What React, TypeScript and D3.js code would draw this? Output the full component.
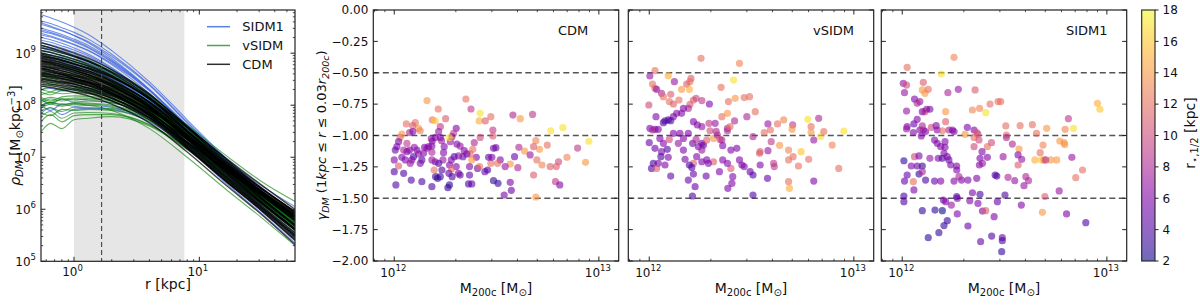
import React from 'react';
import * as d3 from 'd3';

// ---------------- DATA ----------------
// radii (kpc) at which each density profile is sampled
const RADII = [0.55, 0.65, 0.8, 1, 1.3, 2, 4, 8, 16, 32, 58];

// log10 rho_DM [Msun kpc^-3] at RADII
const sidm1Profiles: number[][] = [
  [9.74, 9.68, 9.6, 9.5, 9.36, 9.05, 8.45, 7.72, 7.0, 6.35, 5.85],
  [9.62, 9.57, 9.49, 9.4, 9.27, 8.98, 8.4, 7.68, 6.98, 6.34, 5.86],
  [9.55, 9.5, 9.43, 9.34, 9.22, 8.94, 8.38, 7.66, 6.95, 6.3, 5.8],
  [9.48, 9.43, 9.36, 9.27, 9.15, 8.87, 8.3, 7.58, 6.86, 6.22, 5.72],
  [9.42, 9.38, 9.31, 9.22, 9.1, 8.83, 8.28, 7.58, 6.88, 6.25, 5.76],
  [9.35, 9.31, 9.24, 9.16, 9.05, 8.8, 8.28, 7.6, 6.92, 6.3, 5.82],
  [9.3, 9.26, 9.19, 9.1, 8.98, 8.72, 8.18, 7.48, 6.78, 6.15, 5.64],
  [9.25, 9.21, 9.14, 9.06, 8.95, 8.7, 8.18, 7.52, 6.84, 6.22, 5.74],
  [9.2, 9.16, 9.1, 9.02, 8.92, 8.68, 8.18, 7.54, 6.88, 6.28, 5.82],
  [9.15, 9.11, 9.05, 8.97, 8.87, 8.63, 8.12, 7.46, 6.78, 6.16, 5.66],
  [9.1, 9.07, 9.01, 8.94, 8.84, 8.62, 8.14, 7.5, 6.84, 6.24, 5.76],
  [9.05, 9.02, 8.96, 8.89, 8.8, 8.58, 8.1, 7.47, 6.82, 6.22, 5.74],
  [9.0, 8.97, 8.92, 8.85, 8.76, 8.56, 8.1, 7.48, 6.84, 6.26, 5.8],
  [8.95, 8.92, 8.87, 8.8, 8.72, 8.52, 8.08, 7.46, 6.82, 6.24, 5.78],
  [8.9, 8.87, 8.83, 8.77, 8.69, 8.5, 8.08, 7.48, 6.86, 6.3, 5.86],
  [8.85, 8.83, 8.79, 8.73, 8.66, 8.48, 8.06, 7.45, 6.82, 6.24, 5.76],
  [9.58, 9.52, 9.44, 9.34, 9.2, 8.9, 8.3, 7.56, 6.82, 6.16, 5.64],
  [9.38, 9.33, 9.26, 9.17, 9.05, 8.78, 8.22, 7.5, 6.78, 6.14, 5.62],
  [8.1, 8.02, 8.12, 8.06, 8.08, 8.05, 7.8, 7.3, 6.74, 6.2, 5.74],
  [7.85, 7.95, 7.82, 7.92, 7.94, 7.92, 7.68, 7.2, 6.65, 6.12, 5.66],
  [8.0, 7.9, 8.02, 7.98, 8.0, 7.96, 7.72, 7.22, 6.66, 6.12, 5.64],
  [8.75, 8.73, 8.7, 8.65, 8.58, 8.42, 8.02, 7.42, 6.8, 6.22, 5.74],
  [9.12, 9.08, 9.02, 8.94, 8.83, 8.58, 8.05, 7.35, 6.62, 5.98, 5.44],
  [8.6, 8.58, 8.55, 8.51, 8.45, 8.3, 7.9, 7.28, 6.62, 6.0, 5.48],
  [8.3, 8.32, 8.28, 8.3, 8.27, 8.18, 7.82, 7.2, 6.52, 5.9, 5.35],
  [8.98, 8.95, 8.9, 8.84, 8.76, 8.58, 8.16, 7.58, 6.98, 6.44, 6.05],
  [9.45, 9.4, 9.33, 9.24, 9.12, 8.85, 8.3, 7.62, 6.95, 6.35, 5.9],
  [8.5, 8.48, 8.44, 8.4, 8.34, 8.2, 7.84, 7.26, 6.62, 6.02, 5.5],
];

const vsidmProfiles: number[][] = [
  [9.15, 9.1, 9.03, 8.95, 8.86, 8.65, 8.2, 7.56, 6.9, 6.3, 5.85],
  [8.95, 8.92, 8.88, 8.82, 8.74, 8.55, 8.12, 7.52, 6.9, 6.32, 5.88],
  [8.8, 8.78, 8.75, 8.7, 8.63, 8.46, 8.05, 7.46, 6.84, 6.27, 5.82],
  [8.6, 8.62, 8.58, 8.56, 8.52, 8.4, 8.04, 7.48, 6.88, 6.33, 5.9],
  [8.45, 8.48, 8.44, 8.45, 8.42, 8.33, 8.0, 7.45, 6.85, 6.3, 5.86],
  [8.3, 8.35, 8.3, 8.32, 8.3, 8.22, 7.92, 7.4, 6.82, 6.28, 5.84],
  [8.2, 8.25, 8.22, 8.24, 8.22, 8.15, 7.86, 7.35, 6.76, 6.2, 5.74],
  [8.1, 8.05, 8.12, 8.1, 8.12, 8.08, 7.82, 7.33, 6.76, 6.22, 5.76],
  [8.0, 8.06, 8.0, 8.05, 8.04, 8.0, 7.76, 7.28, 6.72, 6.18, 5.72],
  [7.9, 7.95, 7.88, 7.96, 7.95, 7.94, 7.72, 7.25, 6.7, 6.17, 5.7],
  [7.8, 7.88, 7.75, 7.85, 7.86, 7.84, 7.63, 7.18, 6.63, 6.1, 5.62],
  [7.5, 7.65, 7.55, 7.72, 7.75, 7.78, 7.6, 7.15, 6.62, 6.08, 5.6],
  [8.35, 8.4, 8.38, 8.36, 8.33, 8.24, 7.9, 7.36, 6.76, 6.2, 5.72],
  [8.55, 8.56, 8.53, 8.5, 8.45, 8.32, 7.95, 7.38, 6.78, 6.22, 5.75],
  [8.7, 8.7, 8.66, 8.62, 8.56, 8.4, 8.0, 7.42, 6.8, 6.22, 5.74],
  [8.25, 8.2, 8.28, 8.25, 8.24, 8.18, 7.9, 7.4, 6.84, 6.32, 5.88],
  [7.95, 8.02, 7.98, 8.02, 8.02, 7.98, 7.75, 7.26, 6.7, 6.15, 5.66],
  [8.05, 8.12, 8.08, 8.12, 8.1, 8.05, 7.78, 7.28, 6.7, 6.14, 5.64],
  [8.15, 8.08, 8.16, 8.18, 8.17, 8.12, 7.85, 7.36, 6.8, 6.26, 5.8],
  [8.4, 8.45, 8.42, 8.42, 8.38, 8.28, 7.94, 7.42, 6.84, 6.3, 5.84],
  [8.85, 8.83, 8.79, 8.73, 8.65, 8.48, 8.06, 7.46, 6.82, 6.22, 5.72],
  [7.85, 7.8, 7.92, 7.9, 7.92, 7.9, 7.7, 7.24, 6.7, 6.18, 5.72],
  [9.0, 8.96, 8.91, 8.84, 8.76, 8.57, 8.15, 7.56, 6.95, 6.38, 5.94],
  [8.5, 8.52, 8.5, 8.48, 8.44, 8.33, 7.98, 7.44, 6.86, 6.32, 5.88],
  [7.7, 7.82, 7.68, 7.8, 7.82, 7.82, 7.62, 7.16, 6.6, 6.05, 5.55],
  [8.62, 8.64, 8.6, 8.58, 8.53, 8.4, 8.0, 7.4, 6.78, 6.2, 5.7],
  [8.3, 8.26, 8.33, 8.3, 8.28, 8.2, 7.88, 7.36, 6.78, 6.24, 5.78],
  [8.1, 8.15, 8.12, 8.14, 8.14, 8.1, 7.84, 7.34, 6.78, 6.25, 5.8],
  [8.0, 8.05, 8.02, 8.03, 8.0, 7.9, 7.55, 7.0, 6.4, 5.82, 5.3],
  [9.05, 9.02, 8.96, 8.89, 8.8, 8.6, 8.18, 7.62, 7.05, 6.52, 6.15],
];

const cdmProfiles: number[][] = [
  [9.2, 9.15, 9.08, 9.0, 8.9, 8.68, 8.22, 7.58, 6.92, 6.32, 5.82],
  [9.1, 9.06, 9.0, 8.93, 8.84, 8.64, 8.2, 7.6, 6.98, 6.4, 5.95],
  [9.05, 9.01, 8.95, 8.88, 8.78, 8.57, 8.12, 7.5, 6.86, 6.26, 5.78],
  [9.0, 8.96, 8.91, 8.84, 8.75, 8.55, 8.12, 7.52, 6.9, 6.33, 5.88],
  [8.98, 8.93, 8.87, 8.79, 8.7, 8.49, 8.05, 7.43, 6.8, 6.2, 5.7],
  [8.95, 8.91, 8.86, 8.8, 8.72, 8.54, 8.14, 7.56, 6.95, 6.38, 5.92],
  [8.92, 8.88, 8.82, 8.75, 8.66, 8.45, 8.0, 7.38, 6.74, 6.12, 5.62],
  [8.9, 8.86, 8.81, 8.74, 8.66, 8.47, 8.06, 7.48, 6.88, 6.32, 5.86],
  [8.88, 8.84, 8.78, 8.71, 8.62, 8.42, 7.99, 7.39, 6.77, 6.18, 5.7],
  [8.86, 8.82, 8.77, 8.71, 8.63, 8.45, 8.06, 7.5, 6.92, 6.38, 5.95],
  [8.84, 8.8, 8.74, 8.67, 8.58, 8.38, 7.95, 7.34, 6.7, 6.1, 5.6],
  [8.82, 8.78, 8.73, 8.67, 8.59, 8.41, 8.02, 7.45, 6.85, 6.28, 5.82],
  [8.8, 8.76, 8.71, 8.64, 8.55, 8.36, 7.95, 7.36, 6.74, 6.16, 5.68],
  [8.78, 8.74, 8.69, 8.63, 8.55, 8.37, 7.98, 7.42, 6.83, 6.28, 5.84],
  [8.76, 8.72, 8.66, 8.59, 8.5, 8.3, 7.88, 7.28, 6.65, 6.05, 5.55],
  [8.74, 8.71, 8.66, 8.6, 8.52, 8.35, 7.97, 7.42, 6.84, 6.3, 5.86],
  [8.72, 8.68, 8.63, 8.56, 8.47, 8.28, 7.87, 7.29, 6.68, 6.1, 5.62],
  [8.7, 8.67, 8.62, 8.56, 8.49, 8.32, 7.95, 7.41, 6.85, 6.32, 5.9],
  [8.68, 8.64, 8.59, 8.52, 8.43, 8.24, 7.83, 7.24, 6.62, 6.03, 5.52],
  [8.66, 8.63, 8.58, 8.52, 8.45, 8.29, 7.92, 7.38, 6.8, 6.26, 5.8],
  [8.64, 8.6, 8.55, 8.49, 8.41, 8.22, 7.82, 7.25, 6.65, 6.08, 5.6],
  [8.62, 8.59, 8.55, 8.5, 8.43, 8.27, 7.92, 7.4, 6.85, 6.34, 5.92],
  [8.6, 8.57, 8.52, 8.46, 8.38, 8.2, 7.8, 7.22, 6.6, 6.02, 5.5],
  [8.57, 8.54, 8.5, 8.44, 8.37, 8.21, 7.86, 7.34, 6.78, 6.25, 5.8],
  [8.55, 8.52, 8.47, 8.41, 8.33, 8.15, 7.76, 7.19, 6.58, 6.0, 5.48],
  [8.52, 8.49, 8.45, 8.4, 8.33, 8.18, 7.84, 7.34, 6.8, 6.3, 5.88],
  [8.5, 8.47, 8.43, 8.37, 8.3, 8.13, 7.75, 7.18, 6.56, 5.96, 5.42],
  [8.47, 8.44, 8.4, 8.35, 8.28, 8.13, 7.8, 7.3, 6.76, 6.24, 5.78],
  [8.44, 8.41, 8.37, 8.32, 8.25, 8.09, 7.72, 7.16, 6.55, 5.95, 5.4],
  [8.4, 8.38, 8.34, 8.29, 8.23, 8.08, 7.76, 7.28, 6.76, 6.27, 5.85],
  [8.37, 8.34, 8.3, 8.25, 8.18, 8.02, 7.66, 7.1, 6.48, 5.88, 5.32],
  [9.15, 9.1, 9.03, 8.95, 8.85, 8.62, 8.15, 7.5, 6.82, 6.2, 5.68],
  [8.93, 8.9, 8.85, 8.79, 8.71, 8.53, 8.13, 7.58, 7.0, 6.45, 6.0],
  [8.7, 8.66, 8.6, 8.53, 8.44, 8.24, 7.81, 7.2, 6.56, 5.98, 5.46],
  [8.58, 8.55, 8.51, 8.46, 8.39, 8.24, 7.9, 7.4, 6.88, 6.38, 5.96],
  [8.85, 8.81, 8.75, 8.68, 8.59, 8.39, 7.96, 7.36, 6.72, 6.12, 5.62],
];

const shadeRange = [1.0, 7.6]; // kpc
const dashedRadius = 1.66; // kpc

// scatter: [log10 M200c, gamma_DM, r_half (kpc)]
const cdmPoints: number[][] = [
  [12.16, -0.722, 14], [12.35, -0.709, 12], [12.215, -0.789, 12], [12.375, -0.789, 9], [12.42, -0.823, 17],
  [12.415, -0.884, 15], [12.445, -0.884, 11], [12.472, -0.85, 12], [12.58, -0.837, 8], [12.616, -0.866, 14],
  [12.676, -0.832, 9], [12.765, -0.962, 17], [12.824, -0.938, 17], [12.951, -1.046, 17], [12.896, -1.1, 9],
  [12.935, -1.214, 14], [12.844, -1.174, 13], [12.803, -1.209, 10], [12.788, -1.368, 9], [12.809, -1.394, 6],
  [12.748, -1.076, 12], [12.692, -1.041, 13], [12.71, -1.11, 14], [12.681, -1.089, 11], [12.637, -1.124, 14],
  [12.609, -1.094, 8], [12.664, -1.155, 7], [12.697, -1.195, 12], [12.722, -1.235, 13], [12.681, -1.315, 11],
  [12.692, -1.49, 14], [12.762, -1.248, 11], [12.792, -1.248, 11], [12.604, -1.256, 8], [12.588, -1.169, 5],
  [12.567, -1.227, 14], [12.542, -1.248, 7], [12.567, -1.373, 6], [12.572, -1.437, 5], [12.537, -1.474, 6],
  [12.518, -1.195, 6], [12.505, -1.222, 12], [12.485, -1.102, 6], [12.497, -1.097, 5], [12.472, -1.222, 12],
  [12.477, -1.174, 6], [12.461, -1.174, 5], [12.507, -1.381, 3], [12.485, -1.36, 3], [12.482, -1.004, 11],
  [12.482, -0.956, 9], [12.443, -1.288, 5], [12.456, -1.275, 4], [12.42, -1.015, 10], [12.391, -1.057, 8],
  [12.384, -1.11, 12], [12.401, -1.174, 6], [12.379, -1.195, 14], [12.371, -1.147, 12], [12.355, -1.147, 6],
  [12.368, -1.248, 6], [12.407, -1.262, 5], [12.417, -1.248, 12], [12.368, -1.315, 5], [12.379, -1.386, 5],
  [12.363, -1.386, 4], [12.322, -1.315, 4], [12.314, -1.301, 6], [12.303, -1.248, 6], [12.303, -0.943, 6],
  [12.29, -0.983, 9], [12.282, -1.009, 7], [12.274, -1.049, 7], [12.306, -1.068, 6], [12.322, -1.084, 7],
  [12.342, -1.121, 6], [12.336, -1.169, 5], [12.314, -1.163, 7], [12.293, -1.169, 4], [12.279, -1.195, 6],
  [12.27, -1.235, 6], [12.28, -1.267, 12], [12.267, -1.301, 5], [12.283, -1.328, 4], [12.27, -1.394, 3],
  [12.262, -1.416, 3], [12.251, -0.866, 11], [12.225, -0.93, 9], [12.217, -0.969, 7], [12.225, -1.015, 6],
  [12.231, -1.041, 7], [12.244, -1.089, 6], [12.241, -1.137, 6], [12.238, -1.195, 7], [12.233, -1.275, 4],
  [12.225, -1.328, 4], [12.212, -1.341, 3], [12.202, -1.328, 3], [12.195, -1.275, 12], [12.217, -1.222, 4],
  [12.2, -1.209, 6], [12.184, -1.195, 7], [12.184, -1.134, 8], [12.184, -1.084, 6], [12.186, -1.044, 6],
  [12.181, -1.025, 7], [12.2, -1.015, 6], [12.186, -0.876, 12], [12.2, -0.884, 16], [12.269, -1.017, 17],
  [12.168, -1.089, 6], [12.16, -1.102, 7], [12.148, -1.094, 6], [12.143, -1.142, 6], [12.135, -1.195, 4],
  [12.127, -1.222, 6], [12.119, -1.147, 7], [12.111, -1.116, 6], [12.098, -1.094, 7], [12.094, -1.169, 4],
  [12.086, -1.195, 6], [12.078, -1.222, 7], [12.075, -1.116, 6], [12.062, -1.062, 9], [12.059, -0.908, 12],
  [12.103, -0.898, 12], [12.119, -0.943, 14], [12.127, -0.962, 13], [12.09, -0.922, 11], [12.075, -0.977, 8],
  [12.091, -0.969, 6], [12.037, -0.988, 14], [12.029, -1.015, 12], [12.021, -1.049, 6], [12.013, -1.089, 6],
  [12.005, -1.116, 5], [12.0, -1.195, 6], [12.0, -1.288, 4], [12.008, -1.394, 4], [12.046, -1.301, 4],
  [12.083, -1.355, 4], [12.135, -1.368, 4], [12.184, -1.408, 4], [12.021, -1.243, 11], [12.037, -1.174, 6],
  [12.046, -1.116, 8], [12.062, -1.129, 6], [12.054, -1.195, 6],
];

const vsidmPoints: number[][] = [
  [12.253, -0.385, 12], [12.441, -0.425, 13], [12.028, -0.483, 12], [12.003, -0.526, 7], [12.093, -0.523, 15],
  [12.123, -0.571, 7], [12.204, -0.545, 11], [12.199, -0.571, 12], [12.183, -0.59, 11], [12.412, -0.558, 17],
  [12.016, -0.59, 12], [12.028, -0.624, 11], [12.036, -0.632, 7], [12.158, -0.632, 14], [12.196, -0.632, 15],
  [12.351, -0.616, 12], [11.998, -0.757, 10], [12.06, -0.664, 8], [12.069, -0.691, 12], [12.105, -0.672, 11],
  [12.098, -0.73, 12], [12.118, -0.749, 11], [12.145, -0.717, 12], [12.199, -0.752, 11], [12.216, -0.717, 11],
  [12.229, -0.704, 10], [12.257, -0.722, 9], [12.294, -0.749, 6], [12.387, -0.73, 12], [12.42, -0.704, 14],
  [12.464, -0.698, 12], [12.49, -0.691, 12], [12.382, -0.823, 14], [12.355, -0.85, 12], [12.322, -0.903, 7],
  [12.292, -0.903, 9], [12.257, -0.93, 7], [12.235, -0.916, 6], [12.216, -0.89, 6], [12.191, -0.784, 8],
  [12.167, -0.784, 6], [12.158, -0.823, 6], [12.134, -0.823, 6], [12.118, -0.85, 6], [12.077, -0.884, 4],
  [12.093, -0.876, 4], [12.105, -0.882, 4], [12.069, -0.898, 4], [12.033, -0.85, 6], [12.028, -0.951, 6],
  [12.003, -0.943, 6], [12.016, -0.956, 8], [12.044, -0.951, 6], [12.0, -1.057, 5], [12.028, -1.102, 5],
  [12.06, -1.129, 6], [12.069, -1.062, 6], [12.088, -1.11, 4], [12.098, -1.031, 10], [12.118, -0.983, 6],
  [12.15, -0.983, 6], [12.167, -1.023, 6], [12.191, -0.983, 6], [12.212, -1.062, 5], [12.229, -1.031, 8],
  [12.24, -1.089, 6], [12.257, -1.062, 6], [12.265, -1.076, 5], [12.281, -1.036, 11], [12.314, -1.023, 14],
  [12.297, -0.962, 10], [12.327, -0.967, 8], [12.333, -0.996, 8], [12.346, -1.031, 10], [12.355, -1.036, 8],
  [12.382, -0.962, 8], [12.382, -0.943, 8], [12.395, -0.93, 12], [12.359, -1.081, 6], [12.399, -1.116, 6],
  [12.428, -1.102, 6], [12.417, -0.884, 8], [12.477, -0.85, 8], [12.518, -0.81, 12], [12.58, -0.908, 7],
  [12.627, -0.908, 12], [12.657, -0.876, 13], [12.701, -0.916, 9], [12.698, -0.951, 14], [12.562, -0.977, 12],
  [12.592, -0.956, 12], [12.507, -1.009, 8], [12.542, -1.129, 11], [12.58, -1.121, 7], [12.596, -1.049, 9],
  [12.637, -1.078, 14], [12.681, -1.116, 13], [12.703, -1.169, 12], [12.742, -1.129, 16], [12.729, -1.243, 12],
  [12.779, -1.19, 12], [12.681, -1.195, 12], [12.681, -1.368, 12], [12.685, -1.421, 15], [12.775, -0.871, 17],
  [12.828, -0.863, 8], [12.791, -0.93, 12], [12.791, -0.977, 14], [12.804, -1.036, 7], [12.837, -1.009, 17],
  [12.853, -0.969, 12], [12.894, -1.076, 13], [12.926, -1.262, 12], [12.951, -0.964, 17], [12.804, -1.363, 6],
  [12.608, -1.222, 9], [12.611, -1.248, 9], [12.578, -1.341, 5], [12.539, -1.142, 11], [12.542, -1.235, 6],
  [12.507, -1.315, 4], [12.493, -1.288, 5], [12.464, -1.248, 6], [12.453, -1.235, 6], [12.441, -1.195, 6],
  [12.408, -1.328, 6], [12.404, -1.381, 6], [12.384, -1.421, 6], [12.507, -1.474, 4], [12.399, -1.262, 11],
  [12.382, -1.222, 6], [12.359, -1.195, 6], [12.343, -1.288, 6], [12.314, -1.209, 11], [12.289, -1.222, 6],
  [12.281, -1.195, 6], [12.257, -1.209, 6], [12.232, -1.169, 6], [12.216, -1.222, 11], [12.196, -1.235, 4],
  [12.208, -1.254, 4], [12.216, -1.307, 5], [12.224, -1.408, 5], [12.211, -1.482, 4], [12.191, -1.355, 5],
  [12.175, -1.19, 6], [12.105, -1.323, 5], [12.077, -1.235, 6], [12.044, -1.222, 6], [12.02, -1.222, 4],
  [12.011, -1.262, 4], [12.036, -1.262, 11], [12.057, -1.169, 4], [12.093, -1.174, 6], [12.278, -1.323, 5],
  [12.257, -1.116, 7], [12.142, -1.062, 7], [12.167, -1.116, 6], [12.052, -1.023, 6],
];

const sidm1Points: number[][] = [
  [12.253, -0.377, 13], [12.024, -0.457, 12], [12.191, -0.51, 17], [12.005, -0.584, 7], [12.021, -0.598, 10],
  [12.011, -0.659, 7], [12.103, -0.576, 11], [12.098, -0.637, 14], [12.111, -0.664, 14], [12.127, -0.632, 12],
  [12.223, -0.659, 8], [12.274, -0.632, 7], [12.356, -0.637, 11], [12.06, -0.709, 6], [12.086, -0.73, 7],
  [12.073, -0.744, 8], [12.119, -0.791, 6], [12.111, -0.81, 10], [12.135, -0.791, 6], [12.098, -0.81, 6],
  [12.021, -0.805, 7], [12.212, -0.81, 14], [12.343, -0.797, 13], [12.378, -0.784, 13], [12.408, -0.818, 17],
  [12.429, -0.749, 12], [12.468, -0.73, 12], [12.481, -0.73, 12], [12.954, -0.744, 15], [12.966, -0.791, 16],
  [12.024, -0.93, 6], [12.021, -0.948, 7], [12.057, -0.908, 5], [12.073, -0.871, 6], [12.054, -0.977, 6],
  [12.086, -0.956, 6], [12.098, -0.924, 8], [12.103, -0.956, 8], [12.093, -1.004, 6], [12.114, -0.969, 6],
  [12.142, -0.935, 10], [12.166, -0.922, 6], [12.171, -0.956, 6], [12.196, -0.962, 12], [12.212, -0.89, 11],
  [12.228, -0.956, 8], [12.245, -0.956, 6], [12.253, -0.969, 6], [12.318, -0.935, 6], [12.351, -0.956, 6],
  [12.364, -0.977, 11], [12.307, -0.991, 14], [12.351, -1.015, 12], [12.37, -0.988, 10], [12.375, -1.036, 10],
  [12.351, -1.089, 10], [12.506, -0.924, 12], [12.576, -0.922, 12], [12.636, -0.914, 12], [12.656, -0.983, 12],
  [12.706, -0.943, 14], [12.796, -0.951, 13], [12.837, -0.943, 17], [12.812, -0.866, 9], [12.77, -1.044, 14],
  [12.791, -1.057, 14], [12.794, -1.073, 14], [12.688, -1.076, 13], [12.674, -1.137, 12], [12.648, -1.195, 15],
  [12.68, -1.195, 16], [12.693, -1.195, 13], [12.726, -1.195, 14], [12.755, -1.195, 14], [12.701, -1.195, 9],
  [12.829, -1.174, 7], [12.881, -1.275, 12], [12.848, -1.336, 12], [12.767, -1.442, 7], [12.803, -1.625, 6],
  [12.897, -1.695, 4], [12.685, -1.612, 14], [12.697, -1.487, 11], [12.509, -0.996, 12], [12.509, -1.015, 8],
  [12.538, -1.068, 8], [12.571, -1.108, 14], [12.566, -1.155, 6], [12.584, -1.19, 7], [12.566, -1.235, 11],
  [12.517, -1.333, 8], [12.55, -1.36, 7], [12.604, -1.328, 8], [12.617, -1.36, 8], [12.595, -1.4, 7],
  [12.493, -1.169, 7], [12.436, -1.057, 10], [12.416, -1.089, 12], [12.416, -1.174, 6], [12.39, -1.129, 6],
  [12.38, -1.182, 6], [12.377, -1.235, 6], [12.392, -1.222, 7], [12.364, -1.341, 6], [12.321, -1.355, 6],
  [12.29, -1.355, 6], [12.277, -1.328, 8], [12.266, -1.243, 6], [12.266, -1.275, 6], [12.253, -1.363, 6],
  [12.237, -1.235, 6], [12.228, -1.195, 5], [12.204, -1.142, 6], [12.209, -1.094, 6], [12.209, -1.049, 6],
  [12.188, -1.089, 6], [12.171, -1.062, 6], [12.158, -1.036, 6], [12.135, -1.182, 7], [12.176, -1.182, 6],
  [12.196, -1.182, 4], [12.22, -1.169, 6], [12.158, -1.363, 5], [12.188, -1.363, 6], [12.114, -1.355, 4],
  [12.082, -1.307, 3], [12.098, -1.243, 3], [12.073, -1.243, 5], [12.044, -1.243, 6], [12.024, -1.315, 5],
  [12.011, -1.363, 5], [12.008, -1.201, 3], [12.06, -1.169, 10], [12.082, -1.163, 6], [12.098, -1.288, 8],
  [12.054, -1.368, 12], [12.057, -1.434, 6], [12.008, -1.482, 4], [12.008, -1.527, 4], [12.098, -1.599, 3],
  [12.16, -1.594, 3], [12.196, -1.599, 2], [12.22, -1.679, 3], [12.204, -1.718, 3], [12.179, -1.774, 3],
  [12.127, -1.814, 3], [12.269, -1.625, 6], [12.24, -1.554, 7], [12.212, -1.527, 6], [12.201, -1.514, 6],
  [12.269, -1.501, 6], [12.266, -1.487, 4], [12.321, -1.721, 5], [12.343, -1.456, 6], [12.38, -1.469, 4],
  [12.37, -1.541, 6], [12.33, -1.519, 6], [12.392, -1.602, 6], [12.408, -1.599, 11], [12.383, -1.846, 5],
  [12.437, -1.801, 4], [12.489, -1.814, 5], [12.489, -1.838, 4], [12.486, -1.926, 3], [12.449, -1.647, 6],
  [12.465, -1.527, 5], [12.502, -1.474, 4], [12.582, -1.554, 6], [12.454, -1.315, 4], [12.462, -1.323, 4],
];

const scatterPanels = [
  { name: 'CDM', points: cdmPoints },
  { name: 'vSIDM', points: vsidmPoints },
  { name: 'SIDM1', points: sidm1Points },
];
const profileSets = [
  { name: 'SIDM1', color: '#4169e1', opacity: 0.75, width: 1.1, profiles: sidm1Profiles },
  { name: 'vSIDM', color: '#008000', opacity: 0.6, width: 1.1, profiles: vsidmProfiles },
  { name: 'CDM', color: '#000000', opacity: 0.72, width: 1.4, profiles: cdmProfiles },
];
const legendOrder = ['SIDM1', 'vSIDM', 'CDM'];

const gammaTicks = [0, -0.25, -0.5, -0.75, -1.0, -1.25, -1.5, -1.75, -2.0];
const gammaRefLines = [-0.5, -1.0, -1.5];
const rhoTickExps = [5, 6, 7, 8, 9];
const rTickExps = [0, 1];
const massTickExps = [12, 13];
const cbTicks = [2, 4, 6, 8, 10, 12, 14, 16, 18];
const cbDomain = [2, 18];

// ---------------- LAYOUT ----------------
const W = 1200, H = 305;
const FONT = 'DejaVu Sans, sans-serif';
const P1 = { x0: 41, x1: 295, y0: 10, y1: 261.3 };
const SC = { lefts: [373.3, 628.3, 881.3], w: 245.4, y0: 10, y1: 261 };
const CB = { x0: 1141.7, x1: 1155, y0: 10, y1: 261 };
const FRAME = '#222';

function logMinor(lo: number, hi: number) {
  const out: number[] = [];
  for (let d = Math.floor(Math.log10(lo)); d <= Math.ceil(Math.log10(hi)); d++) {
    for (let k = 2; k <= 9; k++) {
      const v = k * Math.pow(10, d);
      if (v >= lo && v <= hi) out.push(v);
    }
  }
  return out;
}

const Pow = ({ x, y, exp, anchor }: { x: number; y: number; exp: number; anchor: string }) => (
  <text x={x} y={y} textAnchor={anchor} fontSize={12} fill="#111">
    10<tspan dy={-5.5} fontSize={8.5}>{exp}</tspan>
  </text>
);

export default function App() {
  // ---- panel 1 scales
  const xR = d3.scaleLog().domain([0.545, 58]).range([P1.x0, P1.x1]);
  const yRho = d3.scaleLog().domain([1e5, Math.pow(10, 9.83)]).range([P1.y1, P1.y0]);
  const line = d3
    .line<number>()
    .x((_, i) => xR(RADII[i]))
    .y((v) => yRho(Math.pow(10, v)))
    .curve(d3.curveMonotoneX);

  const rMinor = logMinor(0.545, 58).filter((v) => ![1, 10].includes(v));
  const rhoMinor = logMinor(1e5, Math.pow(10, 9.83)).filter((v) => v > 1e5);

  // ---- scatter scales
  const xM = d3.scaleLog().domain([7.9e11, 1.25e13]).range([0, SC.w]);
  const yG = d3.scaleLinear().domain([-2, 0]).range([SC.y1, SC.y0]);
  const color = (r: number) => d3.interpolatePlasma((r - cbDomain[0]) / (cbDomain[1] - cbDomain[0]));
  const mMinor = logMinor(7.9e11, 1.25e13).filter((v) => v !== 1e12 && v !== 1e13);

  const yCb = d3.scaleLinear().domain(cbDomain).range([CB.y1, CB.y0]);
  const gradStops = d3.range(0, 1.0001, 0.05);

  const fmt = (v: number) => (v === 0 ? '0.00' : v.toFixed(2).replace('-', '\u2212'));

  return (
    <svg
      width={W}
      height={H}
      viewBox={`0 0 ${W} ${H}`}
      style={{ position: 'absolute', left: 0, top: 0, background: '#fff' }}
      fontFamily={FONT}
    >
      <defs>
        <clipPath id="clipP1">
          <rect x={P1.x0} y={P1.y0} width={P1.x1 - P1.x0} height={P1.y1 - P1.y0} />
        </clipPath>
        <linearGradient id="cbGrad" x1="0" y1="1" x2="0" y2="0">
          {gradStops.map((t, i) => (
            <stop key={i} offset={t} stopColor={d3.interpolatePlasma(t)} stopOpacity={0.6} />
          ))}
        </linearGradient>
      </defs>

      {/* ================= PANEL 1 ================= */}
      <rect
        x={xR(shadeRange[0])}
        y={P1.y0}
        width={xR(shadeRange[1]) - xR(shadeRange[0])}
        height={P1.y1 - P1.y0}
        fill="#e6e6e6"
      />
      <g clipPath="url(#clipP1)">
        {profileSets.map((s) =>
          s.profiles.map((p, i) => (
            <path
              key={s.name + i}
              d={line(p) || ''}
              fill="none"
              stroke={s.color}
              strokeOpacity={s.opacity}
              strokeWidth={s.width}
            />
          ))
        )}
      </g>
      <line
        x1={xR(dashedRadius)}
        x2={xR(dashedRadius)}
        y1={P1.y0}
        y2={P1.y1}
        stroke="#444"
        strokeWidth={1.1}
        strokeDasharray="5,3"
      />
      {/* ticks */}
      {rTickExps.map((e) => {
        const x = xR(Math.pow(10, e));
        return (
          <g key={'rt' + e}>
            <line x1={x} x2={x} y1={P1.y1} y2={P1.y1 - 4.5} stroke={FRAME} />
            <line x1={x} x2={x} y1={P1.y0} y2={P1.y0 + 4.5} stroke={FRAME} />
            <Pow x={x - 1.5} y={276} exp={e} anchor="middle" />
          </g>
        );
      })}
      {rMinor.map((v, i) => {
        const x = xR(v);
        return (
          <g key={'rm' + i}>
            <line x1={x} x2={x} y1={P1.y1} y2={P1.y1 - 2.2} stroke={FRAME} strokeWidth={0.8} />
            <line x1={x} x2={x} y1={P1.y0} y2={P1.y0 + 2.2} stroke={FRAME} strokeWidth={0.8} />
          </g>
        );
      })}
      {rhoTickExps.map((e) => {
        const y = yRho(Math.pow(10, e));
        return (
          <g key={'yt' + e}>
            <line x1={P1.x0} x2={P1.x0 + 4.5} y1={y} y2={y} stroke={FRAME} />
            <line x1={P1.x1} x2={P1.x1 - 4.5} y1={y} y2={y} stroke={FRAME} />
            <Pow x={36} y={y + 4.5} exp={e} anchor="end" />
          </g>
        );
      })}
      {rhoMinor.map((v, i) => {
        const y = yRho(v);
        return (
          <g key={'ym' + i}>
            <line x1={P1.x0} x2={P1.x0 + 2.2} y1={y} y2={y} stroke={FRAME} strokeWidth={0.8} />
            <line x1={P1.x1} x2={P1.x1 - 2.2} y1={y} y2={y} stroke={FRAME} strokeWidth={0.8} />
          </g>
        );
      })}
      <rect
        x={P1.x0}
        y={P1.y0}
        width={P1.x1 - P1.x0}
        height={P1.y1 - P1.y0}
        fill="none"
        stroke={FRAME}
        strokeWidth={1.2}
      />
      {/* legend */}
      {legendOrder.map((name, i) => {
        const s = profileSets.find((p) => p.name === name)!;
        const y = 26.7 + i * 18.8;
        return (
          <g key={'lg' + name}>
            <line x1={207} x2={230} y1={y} y2={y} stroke={s.color} strokeOpacity={Math.min(1, s.opacity + 0.1)} strokeWidth={1.5} />
            <text x={242.3} y={y + 4.7} fontSize={13} fill="#111">
              {name}
            </text>
          </g>
        );
      })}
      <text x={(P1.x0 + P1.x1) / 2} y={289} textAnchor="middle" fontSize={14} fill="#111">
        r [kpc]
      </text>
      <text transform="translate(20,135.5) rotate(-90)" textAnchor="middle" fontSize={14} fill="#111">
        <tspan fontStyle="italic">ρ</tspan>
        <tspan fontStyle="italic" fontSize={10} dy={3}>DM</tspan>
        <tspan dy={-3}> [M</tspan>
        <tspan fontSize={10} dy={3}>⊙</tspan>
        <tspan dy={-3}>kpc</tspan>
        <tspan fontSize={10} dy={-5}>−3</tspan>
        <tspan dy={5}>]</tspan>
      </text>

      {/* ================= SCATTER PANELS ================= */}
      {scatterPanels.map((panel, pi) => {
        const x0 = SC.lefts[pi];
        return (
          <g key={panel.name} transform={`translate(${x0},0)`}>
            {gammaRefLines.map((g) => (
              <line
                key={'ref' + g}
                x1={0}
                x2={SC.w}
                y1={yG(g)}
                y2={yG(g)}
                stroke="#555"
                strokeWidth={1.4}
                strokeDasharray="6,3.5"
              />
            ))}
            {panel.points.map((p, i) => (
              <circle
                key={i}
                cx={xM(Math.pow(10, p[0]))}
                cy={yG(p[1])}
                r={3.6}
                fill={color(p[2])}
                fillOpacity={0.6}
              />
            ))}
            {/* ticks */}
            {gammaTicks.map((g) => (
              <g key={'gt' + g}>
                <line x1={0} x2={4.5} y1={yG(g)} y2={yG(g)} stroke={FRAME} />
                <line x1={SC.w} x2={SC.w - 4.5} y1={yG(g)} y2={yG(g)} stroke={FRAME} />
                {pi === 0 && (
                  <text x={-5} y={yG(g) + 4.3} textAnchor="end" fontSize={12} fill="#111">
                    {fmt(g)}
                  </text>
                )}
              </g>
            ))}
            {massTickExps.map((e) => {
              const x = xM(Math.pow(10, e));
              return (
                <g key={'mt' + e}>
                  <line x1={x} x2={x} y1={SC.y1} y2={SC.y1 - 4.5} stroke={FRAME} />
                  <line x1={x} x2={x} y1={SC.y0} y2={SC.y0 + 4.5} stroke={FRAME} />
                  <Pow x={x - 1} y={276.5} exp={e} anchor="middle" />
                </g>
              );
            })}
            {mMinor.map((v, i) => {
              const x = xM(v);
              return (
                <g key={'mm' + i}>
                  <line x1={x} x2={x} y1={SC.y1} y2={SC.y1 - 2.2} stroke={FRAME} strokeWidth={0.8} />
                  <line x1={x} x2={x} y1={SC.y0} y2={SC.y0 + 2.2} stroke={FRAME} strokeWidth={0.8} />
                </g>
              );
            })}
            <rect x={0} y={SC.y0} width={SC.w} height={SC.y1 - SC.y0} fill="none" stroke={FRAME} strokeWidth={1.2} />
            <text x={184.7} y={35} fontSize={13} fill="#111">
              {panel.name}
            </text>
            <text x={SC.w / 2} y={292.5} textAnchor="middle" fontSize={14} fill="#111">
              M<tspan fontSize={10} dy={3}>200c</tspan>
              <tspan dy={-3}> [M</tspan>
              <tspan fontSize={10} dy={3}>⊙</tspan>
              <tspan dy={-3}>]</tspan>
            </text>
          </g>
        );
      })}
      <text transform="translate(326,135.5) rotate(-90)" textAnchor="middle" fontSize={13} fill="#111">
        <tspan fontStyle="italic">γ</tspan>
        <tspan fontStyle="italic" fontSize={9.5} dy={3}>DM</tspan>
        <tspan dy={-3}> (1</tspan>
        <tspan fontStyle="italic">kpc</tspan>
        <tspan> ≤ </tspan>
        <tspan fontStyle="italic">r</tspan>
        <tspan> ≤ 0.03</tspan>
        <tspan fontStyle="italic">r</tspan>
        <tspan fontStyle="italic" fontSize={9.5} dy={3}>200c</tspan>
        <tspan dy={-3}>)</tspan>
      </text>

      {/* ================= COLORBAR ================= */}
      <rect x={CB.x0} y={CB.y0} width={CB.x1 - CB.x0} height={CB.y1 - CB.y0} fill="url(#cbGrad)" />
      <rect x={CB.x0} y={CB.y0} width={CB.x1 - CB.x0} height={CB.y1 - CB.y0} fill="none" stroke={FRAME} strokeWidth={1.1} />
      {cbTicks.map((t) => (
        <g key={'cb' + t}>
          <line x1={CB.x1} x2={CB.x1 + 3.5} y1={yCb(t)} y2={yCb(t)} stroke={FRAME} />
          <text x={1162.5} y={yCb(t) + 4.3} fontSize={12} fill="#111">
            {t}
          </text>
        </g>
      ))}
      <text transform="translate(1195,133) rotate(-90)" textAnchor="middle" fontSize={14} fill="#111">
        r<tspan fontSize={10} dy={3}>⋆,1/2</tspan>
        <tspan dy={-3}> [kpc]</tspan>
      </text>
    </svg>
  );
}
